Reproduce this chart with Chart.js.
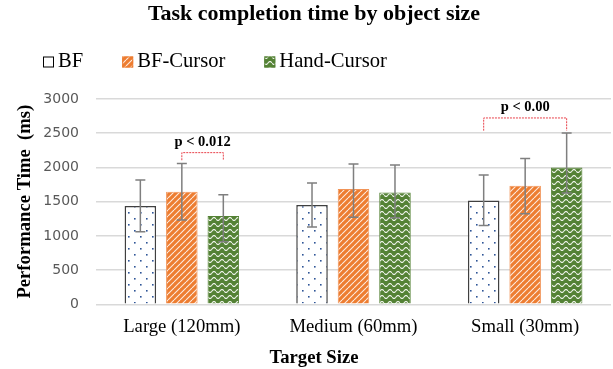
<!DOCTYPE html>
<html>
<head>
<meta charset="utf-8">
<script src="https://cdn.jsdelivr.net/npm/chart.js@4.4.1/dist/chart.umd.min.js"></script>
<style>
  html, body { margin: 0; padding: 0; background: #fff; }
  #wrap { width: 613px; height: 369px; position: relative; }
</style>
</head>
<body>
<div id="wrap"><canvas id="chart"></canvas></div>
<script>
const categories = ['Large (120mm)', 'Medium (60mm)', 'Small (30mm)'];
const seriesNames = ['BF', 'BF-Cursor', 'Hand-Cursor'];

const bfMean = [1437, 1452, 1517];
const bfCursorMean = [1646, 1686, 1732];
const handCursorMean = [1291, 1632, 2000];

const bfErrHigh = [1817, 1773, 1890];
const bfErrLow = [1061, 1130, 1151];
const bfCursorErrHigh = [2056, 2051, 2132];
const bfCursorErrLow = [1232, 1272, 1322];
const handCursorErrHigh = [1602, 2037, 2504];
const handCursorErrLow = [915, 1266, 1625];

const yTicks = [0, 500, 1000, 1500, 2000, 2500, 3000];

// significance brackets
const sigCategory = [0, 2];
const sigFrom = [1, 0];
const sigTo = [2, 2];
const sigTop = [2216, 2723];
const sigLeg = [2105, 2537];
const sigText = ['p < 0.012', 'p < 0.00'];
const sigTextAt = [2373, 2878];

const chartTitle = 'Task completion time by object size';
const xTitle = 'Target Size';

const SERIF = '"Liberation Serif", "Times New Roman", serif';

function makeTile(w, h, draw) {
  const c = document.createElement('canvas');
  c.width = w; c.height = h;
  draw(c.getContext('2d'), w, h);
  return document.getElementById('chart').getContext('2d').createPattern(c, 'repeat');
}

const dots = makeTile(12, 12, (g, w, h) => {
  g.fillStyle = '#fff';
  g.fillRect(0, 0, w, h);
  g.fillStyle = '#2f5597';
  g.fillRect(2, 2, 1.6, 1.6);
  g.fillRect(8, 8, 1.6, 1.6);
});

const stripes = makeTile(6, 6, (g, w, h) => {
  g.fillStyle = '#ed7d31';
  g.fillRect(0, 0, w, h);
  g.strokeStyle = 'rgba(255,255,255,0.85)';
  g.lineWidth = 1.1;
  for (const k of [-6, 0, 6]) {
    g.beginPath();
    g.moveTo(k, h);
    g.lineTo(k + w, 0);
    g.stroke();
  }
});

const waves = makeTile(8, 6, (g, w, h) => {
  g.fillStyle = '#548235';
  g.fillRect(0, 0, w, h);
  g.strokeStyle = 'rgba(255,255,255,0.9)';
  g.lineWidth = 1.1;
  g.beginPath();
  for (let x = 0; x <= w; x += 0.5) {
    const y = 3 + 1.5 * Math.sin(2 * Math.PI * x / w);
    if (x === 0) g.moveTo(x, y); else g.lineTo(x, y);
  }
  g.stroke();
});

const errHigh = [bfErrHigh, bfCursorErrHigh, handCursorErrHigh];
const errLow = [bfErrLow, bfCursorErrLow, handCursorErrLow];

const errorBars = {
  id: 'errorBars',
  afterDatasetsDraw(chart) {
    const { ctx, scales: { y } } = chart;
    ctx.save();
    ctx.strokeStyle = '#7f7f7f';
    ctx.lineWidth = 1.5;
    chart.data.datasets.forEach((ds, i) => {
      chart.getDatasetMeta(i).data.forEach((bar, j) => {
        const top = y.getPixelForValue(errHigh[i][j]);
        const bot = y.getPixelForValue(errLow[i][j]);
        ctx.beginPath();
        ctx.moveTo(bar.x, top); ctx.lineTo(bar.x, bot);
        ctx.moveTo(bar.x - 5, top); ctx.lineTo(bar.x + 5, top);
        ctx.moveTo(bar.x - 5, bot); ctx.lineTo(bar.x + 5, bot);
        ctx.stroke();
      });
    });
    ctx.restore();
  }
};

const brackets = {
  id: 'brackets',
  afterDatasetsDraw(chart) {
    const { ctx, scales: { y } } = chart;
    ctx.save();
    sigCategory.forEach((c, k) => {
      const x1 = chart.getDatasetMeta(sigFrom[k]).data[c].x;
      const x2 = chart.getDatasetMeta(sigTo[k]).data[c].x;
      const yt = y.getPixelForValue(sigTop[k]);
      const yl = y.getPixelForValue(sigLeg[k]);
      ctx.strokeStyle = '#e8404a';
      ctx.lineWidth = 1;
      ctx.setLineDash([2, 1]);
      ctx.beginPath();
      ctx.moveTo(x1, yl); ctx.lineTo(x1, yt); ctx.lineTo(x2, yt); ctx.lineTo(x2, yl);
      ctx.stroke();
      ctx.setLineDash([]);
      ctx.fillStyle = '#000';
      ctx.font = 'bold 14.5px ' + SERIF;
      ctx.textAlign = 'center';
      ctx.textBaseline = 'middle';
      ctx.fillText(sigText[k], (x1 + x2) / 2, y.getPixelForValue(sigTextAt[k]));
    });
    ctx.restore();
  }
};

// title, legend row and x-axis title (the reference centres it on the page, not the plot)
const header = {
  id: 'header',
  afterDraw(chart) {
    const { ctx } = chart;
    ctx.save();
    ctx.fillStyle = '#000';
    ctx.font = 'bold 22px ' + SERIF;
    ctx.textAlign = 'center';
    ctx.textBaseline = 'alphabetic';
    ctx.fillText(chartTitle, 314, 20);

    ctx.font = 'bold 18.67px ' + SERIF;
    ctx.textBaseline = 'middle';
    ctx.fillText(xTitle, 314, 358);

    ctx.font = '20.6px ' + SERIF;
    ctx.textAlign = 'left';
    let x = 43;
    const cy = 62;
    chart.data.datasets.forEach(ds => {
      ctx.fillStyle = ds.legendFill;
      ctx.fillRect(x, cy - 5.5, 11, 11);
      ctx.strokeStyle = ds.legendBorder;
      ctx.lineWidth = 1;
      ctx.strokeRect(x + 0.5, cy - 5, 10, 10);
      ctx.fillStyle = '#000';
      ctx.fillText(ds.label, x + 15, cy);
      x += 15 + ctx.measureText(ds.label).width + 39;
    });
    ctx.restore();
  }
};

new Chart(document.getElementById('chart'), {
  type: 'bar',
  data: {
    labels: categories,
    datasets: [
      { label: seriesNames[0], data: bfMean, backgroundColor: dots, borderColor: '#404040', borderWidth: 1.5, legendFill: '#fff', legendBorder: '#000' },
      { label: seriesNames[1], data: bfCursorMean, backgroundColor: stripes, borderColor: '#f19458', borderWidth: 1, legendFill: stripes, legendBorder: '#ed7d31' },
      { label: seriesNames[2], data: handCursorMean, backgroundColor: waves, borderColor: '#548235', borderWidth: 1, legendFill: waves, legendBorder: '#548235' }
    ]
  },
  options: {
    responsive: true,
    maintainAspectRatio: false,
    animation: false,
    categoryPercentage: 0.725,
    barPercentage: 0.76,
    layout: { padding: { left: 0, right: 2, top: 99, bottom: 0 } },
    plugins: {
      legend: { display: false },
      tooltip: { enabled: false },
      title: { display: false }
    },
    scales: {
      x: {
        grid: { display: false },
        border: { display: false },
        ticks: { color: '#000', font: { family: SERIF, size: 18.67 }, padding: 4 },
        title: { display: false },
        afterFit(scale) { scale.height = 64.7; }
      },
      y: {
        min: 0,
        max: 3000,
        afterBuildTicks(scale) { scale.ticks = yTicks.map(v => ({ value: v })); },
        grid: { color: '#d9d9d9', lineWidth: 1.5, drawTicks: false },
        border: { display: false },
        ticks: {
          color: '#595959',
          font: { family: '"DejaVu Sans", sans-serif', size: 14 },
          padding: 17,
          callback: v => String(v)
        },
        title: {
          display: true,
          text: 'Performance Time  (ms)',
          color: '#000',
          font: { family: SERIF, size: 18.67, weight: 'bold', lineHeight: 1.2 },
          padding: { top: 14, bottom: 0 }
        },
        afterFit(scale) { scale.width = 96; }
      }
    }
  },
  plugins: [errorBars, brackets, header]
});
</script>
</body>
</html>
